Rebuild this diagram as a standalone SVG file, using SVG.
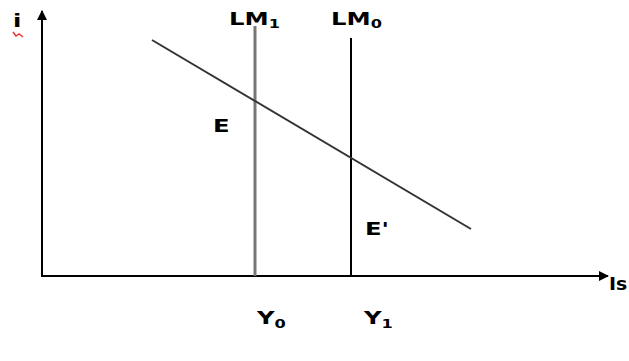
<svg xmlns="http://www.w3.org/2000/svg" width="629" height="361" viewBox="0 0 629 361">
<defs>
<style>
.t{font-family:"DejaVu Sans",Verdana,sans-serif;font-weight:bold;font-size:18px;fill:#000}
.s{font-size:12px}
.ax{stroke:#000;stroke-width:2;fill:none}
</style>
<marker id="ah" markerWidth="10" markerHeight="10" refX="9" refY="5" orient="auto" markerUnits="userSpaceOnUse">
<path d="M0,0 L10,5 L0,10 Z" fill="#000"/>
</marker>
</defs>
<rect width="629" height="361" fill="#fff"/>
<g id="connectors">
<line class="ax" x1="42" y1="277" x2="42" y2="11" marker-end="url(#ah)"/>
<line class="ax" x1="42" y1="276" x2="608" y2="276" marker-end="url(#ah)"/>
</g>
<g id="LM1"><line x1="255" y1="26" x2="255" y2="276" stroke="#777" stroke-width="3"/><text class="t" transform="translate(229,25) scale(1.35,1)">LM<tspan class="s" dy="3">1</tspan></text></g>
<g id="LM0"><line x1="351" y1="38" x2="351" y2="276" stroke="#000" stroke-width="2"/><text class="t" transform="translate(331,25) scale(1.35,1)">LM<tspan class="s" dy="3">0</tspan></text></g>
<g id="IS"><line x1="152" y1="40" x2="471" y2="229" stroke="#333" stroke-width="2"/></g>
<g id="labels">
<text class="t" transform="translate(13,27) scale(1.35,1)">i</text>
<path d="M13,32 L16,36 L19,34 L23,37" stroke="#e33" stroke-width="1.5" fill="none"/>
<text class="t" transform="translate(609,290) scale(1.05,1)">Is</text>
<text class="t" transform="translate(213,132) scale(1.35,1)">E</text>
<text class="t" transform="translate(365,235) scale(1.35,1)">E'</text>
<text class="t" transform="translate(257,324) scale(1.35,1)">Y<tspan class="s" dy="4">0</tspan></text>
<text class="t" transform="translate(364,324) scale(1.35,1)">Y<tspan class="s" dy="4">1</tspan></text>
</g>
</svg>
